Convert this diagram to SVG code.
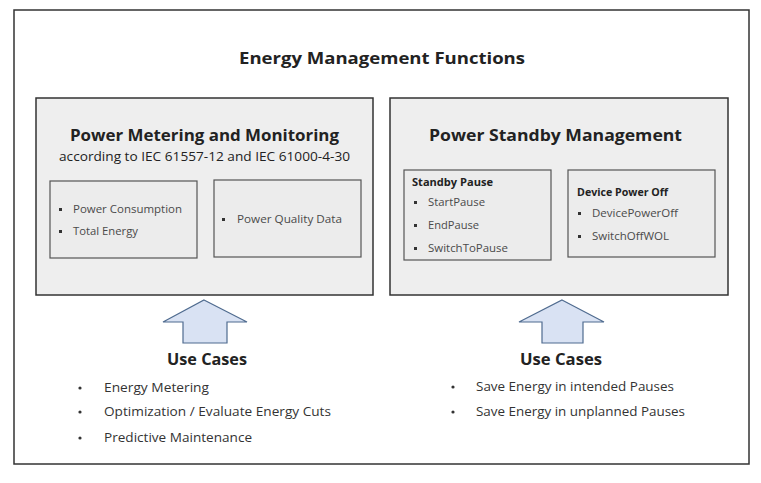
<svg xmlns="http://www.w3.org/2000/svg" width="761" height="483" viewBox="0 0 761 483">
<style>
text{font-family:"Open Sans","Noto Sans","Liberation Sans",sans-serif;fill:#222}
.h{font-weight:bold;font-size:16.5px}
.s{font-size:12.5px;fill:#222}
.it{font-size:11px;fill:#4a4a4a}
.ib{font-size:10.5px;font-weight:bold;fill:#222}
.uc{font-weight:bold;font-size:15.5px}
.li{font-size:12.5px;fill:#333}
.panel{fill:#eeeeee;stroke:#333;stroke-width:1.5}
.sub{fill:#ececec;stroke:#555;stroke-width:1.2}
.sq{fill:#333}
.arrow{fill:#d9e2f3;stroke:#4f6b8f;stroke-width:1.2}
</style>
<rect x="0" y="0" width="761" height="483" fill="#fff"/>
<g id="frame">
<rect x="14" y="10" width="735" height="454" fill="#fff" stroke="#333" stroke-width="1.5"/>
<text class="h" x="239" y="64" textLength="286" lengthAdjust="spacingAndGlyphs">Energy Management Functions</text>
</g>
<g id="metering">
<rect class="panel" x="36" y="98" width="337" height="197"/>
<text class="h" x="70" y="141" textLength="269" lengthAdjust="spacingAndGlyphs">Power Metering and Monitoring</text>
<text class="s" x="59" y="161" textLength="291" lengthAdjust="spacingAndGlyphs">according to IEC 61557-12 and IEC 61000-4-30</text>
</g>
<g id="consumption">
<rect class="sub" x="50" y="181" width="147" height="77"/>
<rect class="sq" x="59" y="208" width="3" height="3"/>
<text class="it" x="73" y="213" textLength="109" lengthAdjust="spacingAndGlyphs">Power Consumption</text>
<rect class="sq" x="59" y="230" width="3" height="3"/>
<text class="it" x="73" y="235" textLength="65" lengthAdjust="spacingAndGlyphs">Total Energy</text>
</g>
<g id="quality">
<rect class="sub" x="214" y="180" width="147" height="77"/>
<rect class="sq" x="222" y="218" width="3" height="3"/>
<text class="it" x="237" y="223" textLength="105" lengthAdjust="spacingAndGlyphs">Power Quality Data</text>
</g>
<g id="standby">
<rect class="panel" x="390" y="98" width="338" height="197"/>
<text class="h" x="429" y="141" textLength="253" lengthAdjust="spacingAndGlyphs">Power Standby Management</text>
</g>
<g id="standby-pause">
<rect class="sub" x="404" y="170" width="147" height="90"/>
<text class="ib" x="412" y="186" textLength="81" lengthAdjust="spacingAndGlyphs">Standby Pause</text>
<rect class="sq" x="414" y="201" width="3" height="3"/>
<text class="it" x="428" y="206" textLength="57" lengthAdjust="spacingAndGlyphs">StartPause</text>
<rect class="sq" x="414" y="224" width="3" height="3"/>
<text class="it" x="428" y="229" textLength="51" lengthAdjust="spacingAndGlyphs">EndPause</text>
<rect class="sq" x="414" y="247" width="3" height="3"/>
<text class="it" x="428" y="252" textLength="80" lengthAdjust="spacingAndGlyphs">SwitchToPause</text>
</g>
<g id="device-power-off">
<rect class="sub" x="568" y="170" width="147" height="87"/>
<text class="ib" x="577" y="196" textLength="91" lengthAdjust="spacingAndGlyphs">Device Power Off</text>
<rect class="sq" x="578" y="212" width="3" height="3"/>
<text class="it" x="592" y="217" textLength="86" lengthAdjust="spacingAndGlyphs">DevicePowerOff</text>
<rect class="sq" x="578" y="235" width="3" height="3"/>
<text class="it" x="592" y="240" textLength="77" lengthAdjust="spacingAndGlyphs">SwitchOffWOL</text>
</g>
<g id="connectors">
<polygon class="arrow" points="204,300 247,322 227,322 227,343 183,343 183,322 163,322"/>
<polygon class="arrow" points="562,300 604,322 583,322 583,343 542,343 542,322 519,322"/>
</g>
<g id="use-cases-left">
<text class="uc" x="167" y="365" textLength="80" lengthAdjust="spacingAndGlyphs">Use Cases</text>
<circle cx="80" cy="388" r="1.6" fill="#333"/>
<text class="li" x="104" y="392" textLength="105" lengthAdjust="spacingAndGlyphs">Energy Metering</text>
<circle cx="80" cy="412" r="1.6" fill="#333"/>
<text class="li" x="104" y="416" textLength="227" lengthAdjust="spacingAndGlyphs">Optimization / Evaluate Energy Cuts</text>
<circle cx="80" cy="438" r="1.6" fill="#333"/>
<text class="li" x="104" y="442" textLength="148" lengthAdjust="spacingAndGlyphs">Predictive Maintenance</text>
</g>
<g id="use-cases-right">
<text class="uc" x="520" y="365" textLength="82" lengthAdjust="spacingAndGlyphs">Use Cases</text>
<circle cx="453" cy="387" r="1.6" fill="#333"/>
<text class="li" x="476" y="391" textLength="198" lengthAdjust="spacingAndGlyphs">Save Energy in intended Pauses</text>
<circle cx="453" cy="412" r="1.6" fill="#333"/>
<text class="li" x="476" y="416" textLength="209" lengthAdjust="spacingAndGlyphs">Save Energy in unplanned Pauses</text>
</g>
</svg>
